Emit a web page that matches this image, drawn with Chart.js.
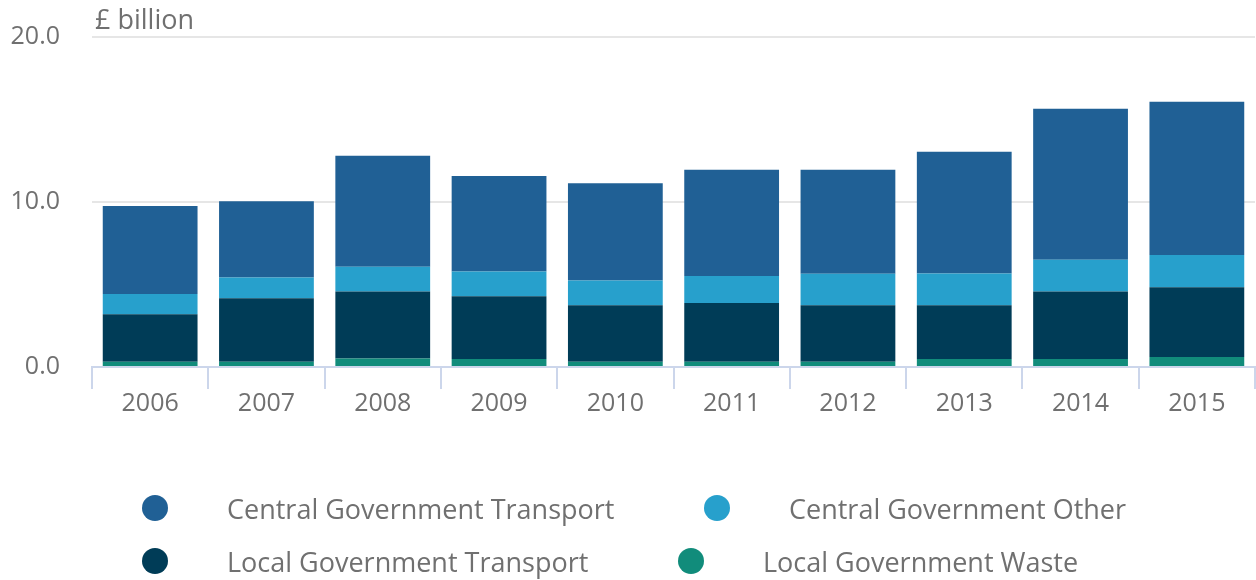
<!DOCTYPE html>
<html>
<head>
<meta charset="utf-8">
<script src="https://cdn.jsdelivr.net/npm/chart.js@4/dist/chart.umd.min.js"></script>
<style>
  html, body { margin: 0; padding: 0; background: #ffffff; }
  #wrap { width: 1256px; height: 580px; position: relative; }
</style>
</head>
<body>
<div id="wrap"><canvas id="c" width="1256" height="580"></canvas></div>
<script>
const categories = ['2006','2007','2008','2009','2010','2011','2012','2013','2014','2015'];
const centralGovTransport = [5.33, 4.61, 6.72, 5.78, 5.90, 6.44, 6.30, 7.38, 9.15, 9.29];
const centralGovOther     = [1.24, 1.26, 1.51, 1.50, 1.50, 1.63, 1.91, 1.93, 1.93, 1.95];
const localGovTransport   = [2.87, 3.85, 4.06, 3.80, 3.42, 3.56, 3.42, 3.25, 4.08, 4.23];
const localGovWaste       = [0.32, 0.32, 0.51, 0.49, 0.32, 0.32, 0.32, 0.49, 0.49, 0.61];
const yTicks = [0, 10, 20];
const unitLabel = '£ billion';

const FONT = "'Open Sans', 'Noto Sans', sans-serif";
const TEXT = '#707070';

// datasets bottom-up (stack order)
const datasets = [
  { label: 'Local Government Waste', data: localGovWaste, backgroundColor: '#118c7b' },
  { label: 'Local Government Transport', data: localGovTransport, backgroundColor: '#003c57' },
  { label: 'Central Government Other', data: centralGovOther, backgroundColor: '#27a0cc' },
  { label: 'Central Government Transport', data: centralGovTransport, backgroundColor: '#206095' }
];
const legendOrder = [3, 2, 1, 0];
const legendSlots = [[155, 508], [717, 508], [155, 561], [691, 561]];

const extras = {
  id: 'extras',
  afterDraw(chart) {
    const ctx = chart.ctx;
    ctx.save();
    ctx.fillStyle = TEXT;
    ctx.font = '27px ' + FONT;
    ctx.textAlign = 'left';
    ctx.textBaseline = 'middle';
    ctx.fillText(unitLabel, chart.chartArea.left + 3, 21);
    ctx.font = '27px ' + FONT;
    legendOrder.forEach((di, i) => {
      const ds = chart.data.datasets[di];
      const [x, y] = legendSlots[i];
      ctx.beginPath();
      ctx.arc(x, y, 13, 0, Math.PI * 2);
      ctx.fillStyle = ds.backgroundColor;
      ctx.fill();
      ctx.fillStyle = TEXT;
      ctx.fillText(ds.label, x + 72, y + 3);
    });
    ctx.restore();
  }
};

new Chart(document.getElementById('c'), {
  type: 'bar',
  data: { labels: categories, datasets: datasets },
  options: {
    responsive: false,
    animation: false,
    devicePixelRatio: 1,
    layout: { padding: { top: 37, right: 1, bottom: 153, left: 0 } },
    plugins: { legend: { display: false }, tooltip: { enabled: false } },
    datasets: { bar: { categoryPercentage: 1.0, barPercentage: 0.815, borderWidth: 0 } },
    scales: {
      x: {
        stacked: true,
        afterFit: s => { s.height = 60; s.paddingLeft = 0; s.paddingRight = 0; },
        grid: { display: true, drawOnChartArea: false, drawTicks: true, tickLength: 22, color: '#ccd6eb', lineWidth: 2, offset: true },
        border: { display: true, color: '#ccd6eb', width: 2 },
        ticks: { color: TEXT, font: { family: FONT, size: 25 }, padding: 0, maxRotation: 0 }
      },
      y: {
        stacked: true,
        min: 0, max: 20,
        afterFit: s => { s.width = 92; s.paddingTop = 0; s.paddingBottom = 0; },
        afterBuildTicks: s => { s.ticks = yTicks.map(v => ({ value: v })); },
        grid: { color: '#e6e6e6', lineWidth: 2, drawTicks: false },
        border: { display: false },
        ticks: { color: TEXT, font: { family: FONT, size: 25 }, padding: 32, callback: v => Number(v).toFixed(1) }
      }
    }
  },
  plugins: [extras]
});
</script>
</body>
</html>
